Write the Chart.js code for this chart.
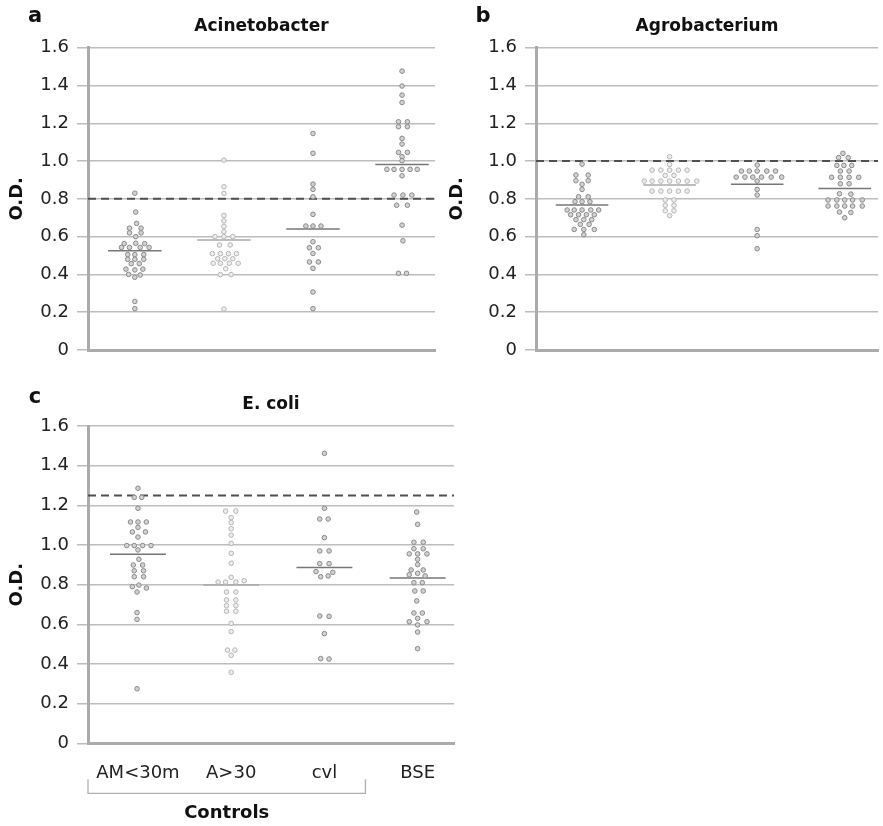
<!DOCTYPE html>
<html>
<head>
<meta charset="utf-8">
<script src="https://cdn.jsdelivr.net/npm/chart.js@4/dist/chart.umd.min.js"></script>
<style>
  body { margin: 0; background: #fff; }
  #wrap { position: relative; width: 883px; height: 826px; }
  canvas { position: absolute; }
</style>
</head>
<body>
<div id="wrap">
  <canvas id="chartA" width="440" height="370" style="left:0;top:0"></canvas>
  <canvas id="chartB" width="443" height="370" style="left:440px;top:0"></canvas>
  <canvas id="chartC" width="460" height="446" style="left:0;top:380px"></canvas>
</div>
<script>
// groups along x (only shown under panel c)
const categories = ['AM<30m', 'A>30', 'cvl', 'BSE'];
const yTicks = [0, 0.2, 0.4, 0.6, 0.8, 1.0, 1.2, 1.4, 1.6];

// every dot is [x offset from the group centre (in groups), O.D.]
// --- a: Acinetobacter
const acinetoAM = [
  [0, 0.83], [0.01, 0.73], [0.02, 0.67], [-0.06, 0.645], [0.07, 0.645],
  [-0.06, 0.62], [0.07, 0.62], [0.01, 0.60], [-0.12, 0.563], [0.01, 0.565], [0.11, 0.563],
  [-0.15, 0.543], [-0.06, 0.543], [0.06, 0.543], [0.16, 0.543],
  [-0.08, 0.505], [0, 0.505], [0.1, 0.505], [-0.08, 0.48], [0, 0.48], [0.1, 0.48],
  [-0.04, 0.457], [0.05, 0.457], [-0.1, 0.428], [0, 0.424], [0.09, 0.428],
  [-0.07, 0.40], [0, 0.385], [0.06, 0.397], [0, 0.257], [0, 0.219]
];
const acinetoA30 = [
  [0, 1.005], [0, 0.864], [0, 0.829], [0, 0.712], [0, 0.683], [0, 0.654], [0, 0.626],
  [-0.1, 0.60], [0, 0.60], [0.1, 0.60], [-0.05, 0.556], [0.07, 0.556],
  [-0.13, 0.51], [-0.04, 0.51], [0.05, 0.51], [0.14, 0.51],
  [-0.07, 0.483], [0.01, 0.483], [0.1, 0.483],
  [-0.12, 0.459], [-0.04, 0.459], [0.06, 0.459], [0.16, 0.459],
  [0.02, 0.43], [-0.04, 0.399], [0.08, 0.399], [0, 0.217]
];
const acinetoCvl = [
  [0, 1.146], [0, 1.041], [0, 0.878], [0, 0.85], [0, 0.811], [0, 0.718],
  [-0.08, 0.656], [0, 0.656], [0.09, 0.656], [0, 0.573], [-0.04, 0.541], [0.06, 0.541],
  [0, 0.511], [-0.04, 0.466], [0.06, 0.466], [0, 0.432], [0, 0.307], [0, 0.219]
];
const acinetoBSE = [
  [0, 1.476], [0, 1.397], [0, 1.349], [0, 1.31], [-0.04, 1.208], [0.06, 1.208],
  [-0.04, 1.182], [0.06, 1.182], [0, 1.12], [0, 1.09], [-0.04, 1.046], [0.06, 1.046],
  [0, 1.023], [0, 1.002],
  [-0.17, 0.956], [-0.09, 0.956], [0, 0.956], [0.09, 0.956], [0.17, 0.956],
  [0, 0.922], [-0.09, 0.82], [0.01, 0.82], [0.11, 0.82], [-0.06, 0.766], [0.06, 0.766],
  [0, 0.661], [0.01, 0.578], [-0.04, 0.406], [0.05, 0.406]
];
const acinetoMeans = [0.525, 0.582, 0.640, 0.982];
const acinetoCutoff = 0.8;

// --- b: Agrobacterium
const agroAM = [
  [0, 0.984], [-0.07, 0.926], [0.07, 0.926], [-0.07, 0.896], [0.07, 0.896],
  [0, 0.877], [0, 0.85], [-0.04, 0.811], [0.07, 0.811],
  [-0.08, 0.785], [0, 0.785], [0.09, 0.785],
  [-0.17, 0.741], [-0.09, 0.741], [0, 0.741], [0.1, 0.741], [0.19, 0.741],
  [-0.13, 0.716], [-0.04, 0.716], [0.05, 0.716], [0.14, 0.716],
  [-0.07, 0.69], [0.02, 0.69], [0.11, 0.69], [-0.02, 0.665], [0.08, 0.665],
  [-0.09, 0.638], [0.02, 0.638], [0.14, 0.638], [0.02, 0.61]
];
const agroA30 = [
  [0, 1.023], [0, 0.982],
  [-0.2, 0.952], [-0.1, 0.952], [0, 0.952], [0.1, 0.952], [0.2, 0.952],
  [-0.05, 0.924], [0.05, 0.924],
  [-0.29, 0.894], [-0.2, 0.894], [-0.1, 0.894], [0, 0.894], [0.1, 0.894], [0.2, 0.894], [0.31, 0.894],
  [-0.2, 0.841], [-0.1, 0.841], [0, 0.841], [0.1, 0.841], [0.2, 0.841],
  [-0.05, 0.794], [0.05, 0.794], [-0.05, 0.766], [0.05, 0.766],
  [-0.05, 0.737], [0.05, 0.737], [0, 0.711]
];
const agroCvl = [
  [0, 0.979],
  [-0.18, 0.947], [-0.09, 0.947], [0, 0.947], [0.11, 0.947], [0.21, 0.947],
  [-0.24, 0.915], [-0.14, 0.915], [-0.05, 0.915], [0.05, 0.915], [0.16, 0.915], [0.28, 0.915],
  [0, 0.894], [0, 0.85], [0, 0.82], [0, 0.638], [0, 0.605], [0, 0.536]
];
const agroBSE = [
  [-0.02, 1.041], [-0.07, 1.018], [0.04, 1.018],
  [-0.09, 0.977], [-0.01, 0.977], [0.08, 0.977], [-0.05, 0.947], [0.05, 0.947],
  [-0.15, 0.914], [-0.05, 0.914], [0.05, 0.914], [0.16, 0.914],
  [-0.05, 0.88], [0.05, 0.88], [-0.06, 0.827], [0.07, 0.825],
  [-0.19, 0.794], [-0.09, 0.794], [0, 0.794], [0.09, 0.794], [0.2, 0.794],
  [-0.19, 0.762], [-0.09, 0.762], [0, 0.762], [0.09, 0.762], [0.2, 0.762],
  [-0.06, 0.73], [0.07, 0.728], [0, 0.70]
];
const agroMeans = [0.767, 0.873, 0.877, 0.855];
const agroCutoff = 1.0;

// --- c: E. coli
const ecoliAM = [
  [0, 1.286], [-0.04, 1.24], [0.04, 1.24], [0, 1.185],
  [-0.08, 1.116], [0, 1.116], [0.09, 1.116], [0, 1.089], [-0.06, 1.066], [0.08, 1.066],
  [0, 1.04], [-0.12, 0.997], [-0.04, 0.997], [0.05, 0.997], [0.14, 0.997],
  [0, 0.975], [0.01, 0.928], [-0.05, 0.899], [0.05, 0.899], [-0.04, 0.87], [0.06, 0.87],
  [-0.04, 0.84], [0.06, 0.84], [-0.06, 0.79], [0.01, 0.798], [0.09, 0.783],
  [-0.01, 0.763], [-0.01, 0.659], [-0.01, 0.625], [-0.01, 0.275]
];
const ecoliA30 = [
  [-0.06, 1.171], [0.05, 1.171], [0, 1.138], [0, 1.113], [0, 1.082], [0, 1.05],
  [0, 1.008], [0, 0.958], [0, 0.908], [0, 0.837],
  [-0.14, 0.813], [-0.06, 0.813], [0.05, 0.813], [0.14, 0.82],
  [-0.05, 0.763], [0.05, 0.763], [-0.05, 0.723], [0.05, 0.723],
  [-0.05, 0.694], [0.05, 0.694], [-0.05, 0.666], [0.05, 0.666],
  [0, 0.605], [0, 0.563], [-0.04, 0.47], [0.04, 0.47], [0, 0.444], [0, 0.358]
];
const ecoliCvl = [
  [0, 1.462], [0, 1.185], [-0.05, 1.131], [0.04, 1.131], [0, 1.037],
  [-0.05, 0.97], [0.05, 0.97], [-0.05, 0.906], [0.05, 0.906],
  [-0.09, 0.866], [0.09, 0.862], [0.04, 0.844], [-0.04, 0.84],
  [-0.05, 0.642], [0.05, 0.64], [0, 0.553], [-0.04, 0.427], [0.05, 0.425]
];
const ecoliBSE = [
  [-0.01, 1.166], [0, 1.104], [-0.04, 1.014], [0.06, 1.014], [-0.04, 0.981], [0.06, 0.981],
  [-0.09, 0.955], [0, 0.955], [0.1, 0.955], [0, 0.928], [0, 0.901],
  [-0.07, 0.874], [0.06, 0.874], [-0.09, 0.85], [0, 0.857], [0.08, 0.844],
  [-0.04, 0.81], [0.05, 0.81], [-0.03, 0.768], [0.06, 0.768], [-0.01, 0.718],
  [-0.04, 0.657], [0.05, 0.657], [-0.09, 0.613], [0, 0.63], [0.1, 0.613], [0, 0.597],
  [0, 0.561], [0, 0.477]
];
const ecoliMeans = [0.953, 0.798, 0.886, 0.834];
const ecoliCutoff = 1.25;

Chart.defaults.font.family = "'DejaVu Sans', sans-serif";
Chart.defaults.color = '#222';

const DARK = { border: '#8a8a8a', fill: '#d2d2d2', mean: '#777' };
const LIGHT = { border: '#b6b6b6', fill: '#ededed', mean: '#a9a9a9' };

function dotSet(pairs, cat) {
  const c = cat === 2 ? LIGHT : DARK;   // A>30 is drawn paler in the figure
  return {
    data: pairs.map(p => ({ x: cat + p[0], y: p[1] })),
    pointRadius: 2.3,
    pointBorderWidth: 1,
    pointBorderColor: c.border,
    pointBackgroundColor: c.fill
  };
}

function lineSet(points, color, width, dash) {
  return {
    data: points,
    showLine: true,
    pointRadius: 0,
    borderColor: color,
    borderWidth: width,
    borderDash: dash || []
  };
}

// panel letter, panel title and (for c) the "Controls" bracket
const decorPlugin = {
  id: 'decor',
  afterDraw(chart, args, o) {
    const ctx = chart.ctx, area = chart.chartArea;
    ctx.save();
    ctx.fillStyle = '#111';
    ctx.textAlign = 'center';
    ctx.textBaseline = 'middle';
    ctx.font = "bold 21px 'DejaVu Sans'";
    ctx.fillText(o.letter, o.letterX, o.letterY);
    ctx.font = "bold 17px 'DejaVu Sans'";
    ctx.fillText(o.title, (area.left + area.right) / 2, o.titleY);
    if (o.bracket) {
      const xs = chart.scales.x;
      const x1 = area.left, x2 = xs.getPixelForValue(o.bracket.to);
      const top = area.bottom + 36, bot = area.bottom + 50;
      ctx.strokeStyle = '#b0b0b0';
      ctx.lineWidth = 1.3;
      ctx.beginPath();
      ctx.moveTo(x1, top); ctx.lineTo(x1, bot); ctx.lineTo(x2, bot); ctx.lineTo(x2, top);
      ctx.stroke();
      ctx.font = "bold 18px 'DejaVu Sans'";
      ctx.fillText(o.bracket.text, (x1 + x2) / 2, bot + 20);
    }
    ctx.restore();
  }
};

function makePanel(id, cfg) {
  const groups = cfg.groups;
  const datasets = groups.map((g, i) => dotSet(g, i + 1));
  cfg.means.forEach((m, i) => {
    const c = i === 1 ? LIGHT : DARK;
    datasets.push(lineSet([{ x: i + 0.7, y: m }, { x: i + 1.3, y: m }], c.mean, 1.5));
  });
  datasets.push(lineSet([{ x: cfg.xMin, y: cfg.cutoff }, { x: cfg.xMax, y: cfg.cutoff }], '#505050', 2, [8, 5]));

  return new Chart(document.getElementById(id), {
    type: 'scatter',
    data: { datasets },
    plugins: [decorPlugin],
    options: {
      responsive: false,
      animation: false,
      devicePixelRatio: 1,
      layout: { padding: cfg.padding },
      plugins: {
        legend: { display: false },
        tooltip: { enabled: false },
        decor: cfg.decor
      },
      scales: {
        x: {
          type: 'linear',
          min: cfg.xMin,
          max: cfg.xMax,
          grid: { display: false, drawTicks: false },
          border: { display: true, color: '#ababab', width: 3 },
          afterBuildTicks: s => { s.ticks = categories.map((c, i) => ({ value: i + 1 })); },
          afterFit: s => { s.height = cfg.xHeight; },
          ticks: {
            display: !!cfg.showCats,
            autoSkip: false,
            maxRotation: 0,
            padding: 19,
            font: { size: 18 },
            callback: v => categories[v - 1]
          }
        },
        y: {
          min: 0,
          max: 1.6,
          afterBuildTicks: s => { s.ticks = yTicks.map(v => ({ value: v })); },
          afterFit: s => { s.width = cfg.yWidth; },
          grid: { color: '#bdbdbd', lineWidth: 1.5, tickLength: 11 },
          border: { display: true, color: '#ababab', width: 3 },
          ticks: {
            padding: 8,
            font: { size: 18 },
            callback: v => v === 0 ? '0' : v.toFixed(1)
          },
          title: {
            display: true,
            text: 'O.D.',
            color: '#111',
            font: { size: 18, weight: 'bold' },
            padding: { top: 7, bottom: 0 }
          }
        }
      }
    }
  });
}

makePanel('chartA', {
  groups: [acinetoAM, acinetoA30, acinetoCvl, acinetoBSE],
  means: acinetoMeans, cutoff: acinetoCutoff,
  xMin: 0.474, xMax: 4.37, yWidth: 88, xHeight: 0,
  padding: { left: 0, top: 47.7, right: 4, bottom: 20 },
  decor: { letter: 'a', letterX: 35, letterY: 17, title: 'Acinetobacter', titleY: 27 }
});

makePanel('chartB', {
  groups: [agroAM, agroA30, agroCvl, agroBSE],
  means: agroMeans, cutoff: agroCutoff,
  xMin: 0.474, xMax: 4.38, yWidth: 96, xHeight: 0,
  padding: { left: 0, top: 47.7, right: 0, bottom: 20 },
  decor: { letter: 'b', letterX: 43, letterY: 17, title: 'Agrobacterium', titleY: 27 }
});

makePanel('chartC', {
  groups: [ecoliAM, ecoliA30, ecoliCvl, ecoliBSE],
  means: ecoliMeans, cutoff: ecoliCutoff,
  xMin: 0.464, xMax: 4.39, yWidth: 88, xHeight: 60, showCats: true,
  padding: { left: 0, top: 46, right: 6, bottom: 22.7 },
  decor: { letter: 'c', letterX: 35, letterY: 18, title: 'E. coli', titleY: 25,
           bracket: { to: 3.44, text: 'Controls' } }
});
</script>
</body>
</html>
